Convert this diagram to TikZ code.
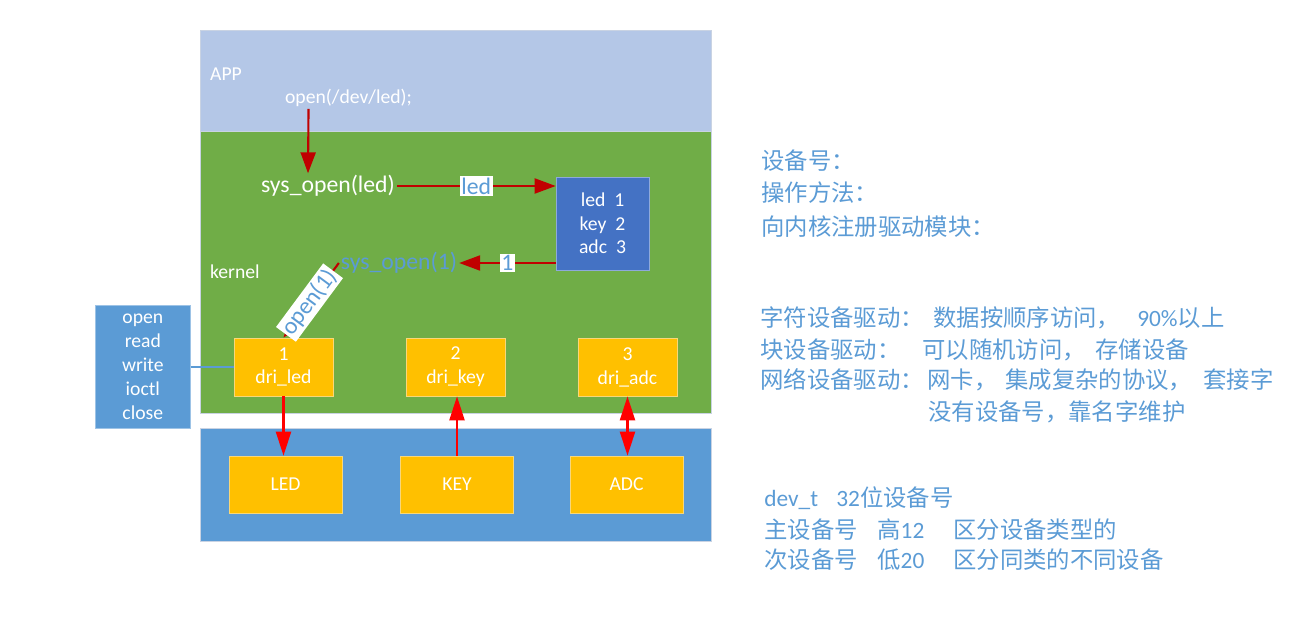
\documentclass[tikz,border=0pt]{standalone}
\usepackage{fontspec}
\setmainfont{Carlito}
\newfontfamily\cjk{Noto Sans CJK SC}
\usepackage{tikz}
\usetikzlibrary{arrows.meta,positioning,calc}
\usepackage{xcolor}
\definecolor{appblue}{HTML}{B4C7E7}
\definecolor{kernelgreen}{HTML}{70AD47}
\definecolor{hwblue}{HTML}{5B9BD5}
\definecolor{tblblue}{HTML}{4472C4}
\definecolor{drvyellow}{HTML}{FFC000}
\definecolor{callred}{HTML}{C00000}
\definecolor{noteblue}{HTML}{5B9BD5}
\definecolor{layeredge}{HTML}{C9D3E3}
\definecolor{yellowedge}{HTML}{F8D77A}
\definecolor{tbledge}{HTML}{8EA9DB}
\definecolor{opsedge}{HTML}{9DC3E6}
\newcommand{\lat}[1]{{\rmfamily #1}}

\begin{document}
\begin{tikzpicture}[x=0.02cm, y=-0.02cm,
  layer/.style={draw=layeredge, line width=0.6pt, anchor=north west, minimum width=10.22cm},
  drvbox/.style={draw=yellowedge, fill=drvyellow, minimum width=1.98cm, minimum height=1.16cm,
                 text=white, align=center, font=\fontsize{11.2}{13.6}\selectfont},
  devbox/.style={drvbox, minimum width=2.26cm, minimum height=1.14cm},
  word/.style={text=white, inner sep=1pt, font=\fontsize{11.2}{13.6}\selectfont},
  bigword/.style={inner sep=1pt, font=\fontsize{13.5}{16}\selectfont},
  tag/.style={bigword, fill=white, text=noteblue},
  call/.style={draw=callred, line width=1.2pt, -{Triangle[length=0.42cm,width=0.3cm]}},
  hwlink/.style={draw=red, line width=1.2pt, >={Triangle[length=0.48cm,width=0.3cm]}},
  note/.style={anchor=west, inner sep=0pt, text=noteblue, font=\cjk\fontsize{13.3}{15.5}\selectfont}
]
\useasboundingbox (0,0) rectangle (1304,618);

% Layers: APP, kernel, hardware
\node[layer, fill=appblue, minimum height=2.02cm] (app) at (200,30) {};
\node[layer, fill=kernelgreen, minimum height=5.64cm] (kernel) at (200,131) {};
\node[layer, fill=hwblue, minimum height=2.26cm] (hw) at (200,428) {};

\node[word, anchor=west] (appname) at (208,74) {APP};
\node[word, anchor=west] (kname) at (208,272) {kernel};
\node[word, anchor=west] (openapp) at (283,98) {open(/dev/led);};

% System calls
\node[bigword, text=white] (sysled) at (328,186) {sys\_open(led)};
\node[bigword, text=noteblue] (sysone) at (399,263) {sys\_open(1)};

% Device number table
\node[draw=tbledge, fill=tblblue, minimum width=1.86cm, minimum height=1.86cm, text=white,
      align=center, font=\fontsize{11.2}{13.3}\selectfont] (tbl) at (602.5,223.5)
  {led\ \ 1\\key\ \ 2\\adc\ \ 3};

% File operations
\node[draw=opsedge, fill=hwblue, minimum width=1.9cm, minimum height=2.46cm, text=white,
      align=center, anchor=north west, font=\fontsize{11.2}{13.6}\selectfont] (ops) at (95,305)
  {open\\read\\write\\ioctl\\close};

% Drivers
\node[drvbox] (drvled) at (283.5,367) {1\\dri\_led};
\node[drvbox] (drvkey) at (455.5,367) {2\\dri\_key};
\node[drvbox] (drvadc) at (627.5,367) {3\\dri\_adc};

% Hardware
\node[devbox] (led) at (285.5,484.5) {LED};
\node[devbox] (key) at (457,484.5) {KEY};
\node[devbox] (adc) at (626.5,484.5) {ADC};

% Call path
\draw[call] ([xshift=-0.8cm]openapp.south) -- ([xshift=-0.4cm]sysled.north);
\draw[call] (sysled.east) -- (sysled.east -| tbl.west) node[tag, midway] (ledtag) {led};
\draw[call] (tbl.west |- sysone.east) -- (sysone.east) node[tag, midway] (onetag) {1};
\draw[call] (sysone.west) -- (drvled.north) node[tag, pos=0.53, sloped] (opentag) {open(1)};
\draw[draw=hwblue, line width=0.8pt] (ops.east |- drvled.west) -- (drvled.west);

% Driver to hardware
\draw[hwlink, ->] (drvled.south) -- (drvled.south |- led.north);
\draw[hwlink, ->] (key.north) -- (key.north |- drvkey.south);
\draw[hwlink, <->] (drvadc.south) -- (drvadc.south |- adc.north);

% Notes on the right
\node[note] (n1) at (761,161) {设备号：};
\node[note] (n2) at (761,193) {操作方法：};
\node[note] (n3) at (761,227) {向内核注册驱动模块：};
\node[note] (n4) at (760,318) {\makebox[3.46cm][l]{字符设备驱动：}\makebox[4.08cm][l]{数据按顺序访问，}\lat{90\%}以上};
\node[note] (n5) at (760,350) {\makebox[3.24cm][l]{块设备驱动：}\makebox[3.46cm][l]{可以随机访问，}存储设备};
\node[note] (n6) at (760,380) {\makebox[3.34cm][l]{网络设备驱动：}\makebox[1.56cm][l]{网卡，}\makebox[3.96cm][l]{集成复杂的协议，}套接字};
\node[note] (n7) at (928,412) {没有设备号，靠名字维护};
\node[note] (n8) at (764,498) {\makebox[1.44cm][l]{\lat{dev\_t}}\lat{32}位设备号};
\node[note] (n9) at (764,530) {\makebox[2.26cm][l]{主设备号}\makebox[1.52cm][l]{高\lat{12}}区分设备类型的};
\node[note] (n10) at (764,560) {\makebox[2.26cm][l]{次设备号}\makebox[1.52cm][l]{低\lat{20}}区分同类的不同设备};

\end{tikzpicture}
\end{document}
